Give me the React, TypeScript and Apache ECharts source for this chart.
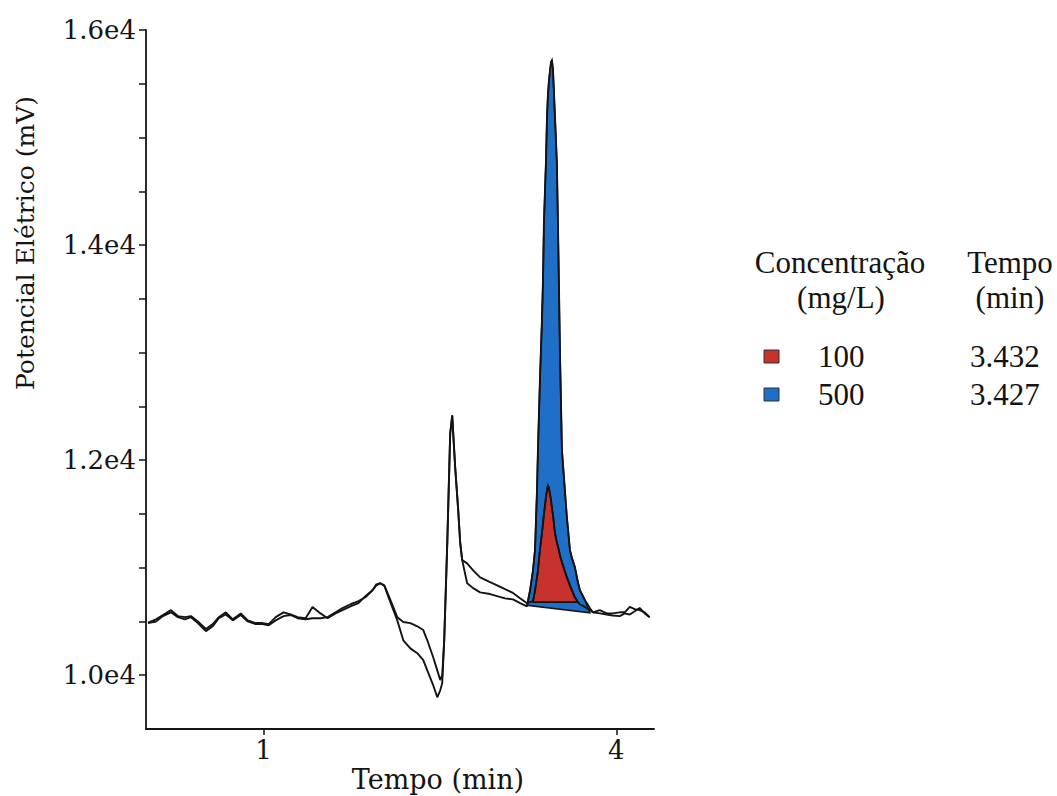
import React, { useEffect, useRef } from "react";
import * as echarts from "echarts";

// Tempo (min) sample grid shared by both chromatograms
const times = [
  0.017, 0.085, 0.144, 0.212, 0.271, 0.331, 0.382, 0.441, 0.509, 0.568,
  0.619, 0.679, 0.738, 0.806, 0.865, 0.933, 0.992, 1.043, 1.103, 1.170,
  1.230, 1.289, 1.357, 1.416, 1.484, 1.544, 1.612, 1.671, 1.739, 1.807,
  1.866, 1.926, 1.959, 1.993, 2.027, 2.078, 2.137, 2.188, 2.248, 2.307,
  2.358, 2.392, 2.443, 2.477, 2.502, 2.519, 2.536, 2.562, 2.587, 2.604,
  2.629, 2.655, 2.672, 2.689, 2.731, 2.782, 2.841, 2.926, 2.986, 3.053,
  3.121, 3.181, 3.240, 3.266, 3.291, 3.308, 3.325, 3.333, 3.350, 3.367,
  3.376, 3.384, 3.393, 3.401, 3.410, 3.418, 3.427, 3.444, 3.452, 3.461,
  3.478, 3.494, 3.503, 3.511, 3.520, 3.537, 3.579, 3.605, 3.622, 3.647,
  3.673, 3.690, 3.732, 3.774, 3.800, 3.859, 3.918, 3.969, 4.029, 4.071,
  4.114, 4.156, 4.198, 4.241, 4.283,
];

// Potencial (mV), 100 mg/L
const signal100 = [
  10490, 10520, 10560, 10605, 10550, 10540, 10550, 10500, 10430, 10475,
  10540, 10585, 10520, 10575, 10510, 10485, 10485, 10475, 10540, 10585,
  10565, 10540, 10530, 10635, 10575, 10530, 10575, 10605, 10640, 10670,
  10735, 10790, 10835, 10855, 10835, 10700, 10540, 10495, 10485, 10455,
  10420, 10325, 10165, 10045, 9955, 10000, 10325, 11230, 12250, 12420,
  11935, 11535, 11230, 11070, 11040, 10975, 10910, 10865, 10835, 10800,
  10765, 10715, 10670, 10680, 10690, 10790, 10910, 10975, 11165, 11320,
  11415, 11500, 11580, 11655, 11720, 11765, 11740, 11630, 11555, 11490,
  11320, 11235, 11200, 11165, 11115, 11050, 10910, 10835, 10790, 10725,
  10680, 10660, 10635, 10605, 10585, 10605, 10575, 10575, 10585, 10585,
  10635, 10615, 10605, 10585, 10540,
];

// Potencial (mV), 500 mg/L
const signal500 = [
  10485, 10500, 10550, 10585, 10540, 10520, 10540, 10485, 10410, 10455,
  10530, 10565, 10510, 10560, 10500, 10475, 10475, 10465, 10510, 10550,
  10560, 10530, 10520, 10530, 10530, 10540, 10585, 10625, 10660, 10690,
  10725, 10790, 10845, 10855, 10830, 10680, 10510, 10325, 10250, 10205,
  10140, 10045, 9905, 9795, 9860, 9925, 10325, 11230, 12250, 12410,
  11935, 11535, 11230, 11070, 10855, 10810, 10770, 10755, 10735, 10715,
  10705, 10670, 10640, 10790, 10975, 11165, 11720, 12095, 12745, 13300,
  13675, 14205, 14510, 14765, 15190, 15395, 15535, 15700, 15720, 15630,
  15190, 14765, 14205, 13675, 13025, 12095, 11470, 11165, 11090, 11005,
  10865, 10790, 10700, 10625, 10585, 10575, 10565, 10555, 10550, 10575,
  10565, 10595, 10625, 10575, 10540,
];

// integration baselines (start, end) of the shaded peaks
const baseline500 = [[3.240, 10650], [3.774, 10580]];
const baseline100 = [[3.291, 10680], [3.673, 10680]];

const yMinorTicks = [10000, 10500, 11000, 11500, 12000, 12500, 13000, 13500, 14000, 14500, 15000, 15500, 16000];
const yTickLabels = [10000, 12000, 14000, 16000];
const xTickLabels = [1, 4];

const legendConcentrations = ["100", "500"];
const legendTimes = ["3.432", "3.427"];
const legendColors = ["#c8322c", "#1f6fc6"];

const SERIF = '"DejaVu Serif", serif';
const TIMES = '"Liberation Serif", "Times New Roman", serif';
const INK = "#141414";

function peakSeries(signal: number[], base: number[][], color: string, z: number) {
  return {
    type: "custom",
    coordinateSystem: "cartesian2d",
    data: [base[0]],
    silent: true,
    clip: false,
    z,
    renderItem: (params: any, api: any) => {
      const pts: number[][] = [base[0]];
      times.forEach((t, i) => {
        if (t > base[0][0] && t < base[1][0]) pts.push([t, signal[i]]);
      });
      pts.push(base[1]);
      return {
        type: "polygon",
        shape: { points: pts.map((p) => api.coord(p)) },
        style: { fill: color, stroke: INK, lineWidth: 1.6 },
      };
    },
  };
}

export default function App() {
  const ref = useRef<HTMLDivElement>(null);
  useEffect(() => {
    if (!ref.current) return;
    const chart = echarts.init(ref.current, undefined, { renderer: "svg" });
    const legendGraphics: any[] = [
      { type: "text", x: 840, y: 262, style: { text: "Concentração", font: `31px ${TIMES}`, fill: INK, align: "center", verticalAlign: "middle" } },
      { type: "text", x: 841, y: 297, style: { text: "(mg/L)", font: `31px ${TIMES}`, fill: INK, align: "center", verticalAlign: "middle" } },
      { type: "text", x: 1010, y: 262, style: { text: "Tempo", font: `31px ${TIMES}`, fill: INK, align: "center", verticalAlign: "middle" } },
      { type: "text", x: 1010, y: 297, style: { text: "(min)", font: `31px ${TIMES}`, fill: INK, align: "center", verticalAlign: "middle" } },
    ];
    legendConcentrations.forEach((c, i) => {
      const y = 356 + i * 38;
      legendGraphics.push(
        { type: "rect", shape: { x: 764, y: y - 6, width: 15, height: 13 }, style: { fill: legendColors[i], stroke: "#333", lineWidth: 1 } },
        { type: "text", x: 818, y, style: { text: c, font: `31px ${TIMES}`, fill: INK, align: "left", verticalAlign: "middle" } },
        { type: "text", x: 970, y, style: { text: legendTimes[i], font: `31px ${TIMES}`, fill: INK, align: "left", verticalAlign: "middle" } }
      );
    });

    chart.setOption({
      animation: false,
      backgroundColor: "#ffffff",
      grid: { left: 146, top: 30, right: 403, bottom: 67, containLabel: false },
      xAxis: {
        type: "value",
        min: 0,
        max: 4.32,
        splitLine: { show: false },
        axisLine: { show: true, onZero: false, lineStyle: { color: INK, width: 1.8 } },
        axisTick: { show: true, inside: false, length: 6, customValues: xTickLabels, lineStyle: { color: INK, width: 1.5 } },
        axisLabel: { customValues: xTickLabels, formatter: (v: number) => String(v), fontFamily: SERIF, fontSize: 26, color: INK, margin: 8 },
      },
      yAxis: {
        type: "value",
        min: 9500,
        max: 16000,
        splitLine: { show: false },
        axisLine: { show: true, onZero: false, lineStyle: { color: INK, width: 1.8 } },
        axisTick: { show: true, inside: false, length: 7, customValues: yMinorTicks, lineStyle: { color: INK, width: 1.5 } },
        axisLabel: {
          customValues: yTickLabels,
          formatter: (v: number) => (v / 10000).toFixed(1) + "e4",
          fontFamily: SERIF,
          fontSize: 26,
          color: INK,
          margin: 10,
        },
      },
      graphic: [
        { type: "text", x: 25, y: 243, rotation: Math.PI / 2, style: { text: "Potencial Elétrico (mV)", font: `25px ${SERIF}`, fill: INK, align: "center", verticalAlign: "middle" } },
        { type: "text", x: 438, y: 779, style: { text: "Tempo (min)", font: `27px ${SERIF}`, fill: INK, align: "center", verticalAlign: "middle" } },
        ...legendGraphics,
      ],
      series: [
        peakSeries(signal500, baseline500, legendColors[1], 1),
        peakSeries(signal100, baseline100, legendColors[0], 2),
        {
          type: "line",
          name: "100 mg/L",
          data: times.map((t, i) => [t, signal100[i]]),
          showSymbol: false,
          silent: true,
          z: 3,
          lineStyle: { color: INK, width: 1.9 },
        },
        {
          type: "line",
          name: "500 mg/L",
          data: times.map((t, i) => [t, signal500[i]]),
          showSymbol: false,
          silent: true,
          z: 3,
          lineStyle: { color: INK, width: 1.9 },
        },
      ],
    });
    return () => chart.dispose();
  }, []);
  return <div ref={ref} style={{ position: "fixed", left: 0, top: 0, width: 1057, height: 796 }} />;
}
